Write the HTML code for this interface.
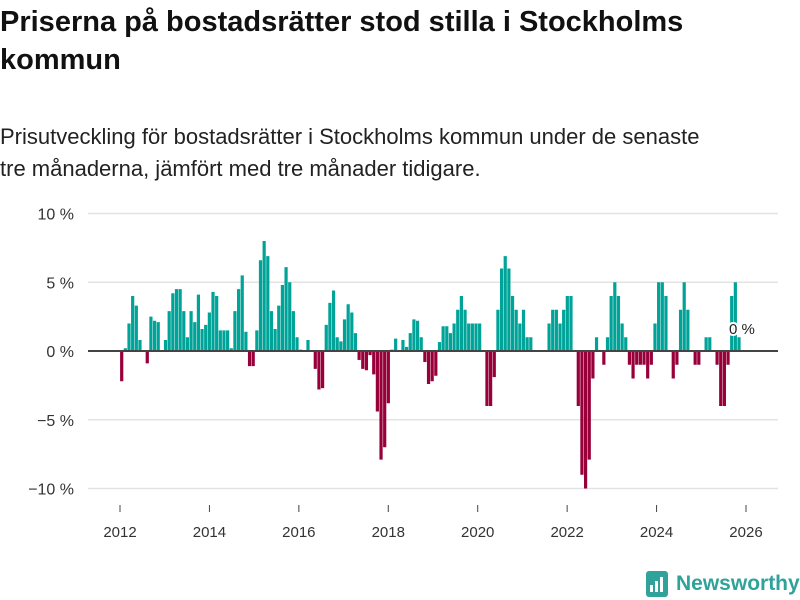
<!DOCTYPE html>
<html><head><meta charset="utf-8"><style>
body{margin:0;background:#fff;font-family:"Liberation Sans",sans-serif;}
#wrap{position:relative;width:800px;height:600px;overflow:hidden;}
h1{position:absolute;left:0;top:3px;margin:0;font-size:29px;line-height:38px;font-weight:bold;color:#111;width:800px;white-space:nowrap;}
p.sub{position:absolute;left:0;top:121px;margin:0;font-size:22px;line-height:32px;color:#222;width:800px;white-space:nowrap;}
</style></head><body>
<div id="wrap">
<h1>Priserna på bostadsrätter stod stilla i Stockholms<br>kommun</h1>
<p class="sub">Prisutveckling för bostadsrätter i Stockholms kommun under de senaste<br>tre månaderna, jämfört med tre månader tidigare.</p>
<svg id="chart" width="800" height="600" style="position:absolute;left:0;top:0"></svg>
</div>
<script>
const values=[-2.2,0.2,2.0,4.0,3.3,0.8,0,-0.9,2.5,2.2,2.1,0,0.8,2.9,4.2,4.5,4.5,2.9,1.0,2.9,2.1,4.1,1.6,1.9,2.8,4.3,4.0,1.5,1.5,1.5,0.2,2.9,4.5,5.5,1.4,-1.1,-1.1,1.5,6.6,8.0,6.9,2.9,1.6,3.3,4.8,6.1,5.0,2.9,1.0,0.1,0,0.8,0,-1.3,-2.8,-2.7,1.9,3.5,4.4,1.0,0.7,2.3,3.4,2.8,1.3,-0.65,-1.3,-1.4,-0.3,-1.7,-4.4,-7.9,-7.0,-3.8,0.1,0.9,0,0.8,0.3,1.3,2.3,2.2,1.0,-0.8,-2.4,-2.2,-1.8,0.65,1.8,1.8,1.3,2.0,3.0,4.0,3.0,2.0,2.0,2.0,2.0,0,-4,-4,-1.9,3,6,6.9,6,4,3,2,3,1,1,0,0,0,0,2,3,3,2,3,4,4,0,-4,-9,-10,-7.9,-2,1,0,-1,1,4,5,4,2,1,-1,-2,-1,-1,-1,-2,-1,2,5,5,4,0,-2,-1,3,5,3,0,-1,-1,0,1,1,0,-1,-4,-4,-1,4,5,1];
const yTicks=[10,5,0,-5,-10];
const yTickLabels=["10 %","5 %","0 %","\u22125 %","\u221210 %"];
const xTicks=[2012,2014,2016,2018,2020,2022,2024,2026];
const NS="http://www.w3.org/2000/svg";
const svg=document.getElementById('chart');
const y=v=>351-v*13.75;
const xYear=yr=>120+(yr-2012)*44.714;
const step=(739-121.7)/(values.length-1);
const xBar=i=>121.7+i*step;
function el(t,a){const e=document.createElementNS(NS,t);for(const k in a)e.setAttribute(k,a[k]);svg.appendChild(e);return e;}
yTicks.forEach((t,i)=>{
 if(t!==0){const g=el('line',{x1:88,x2:778,y1:y(t),y2:y(t),stroke:'#e3e3e3','stroke-width':1.5});
 
 }
 const l=el('text',{x:74,y:y(t)+6,'text-anchor':'end','font-size':16,fill:'#333','font-family':'Liberation Sans, sans-serif'});
 l.textContent=yTickLabels[i];
 
 
});
xTicks.forEach(t=>{
 const tk=el('line',{x1:xYear(t),x2:xYear(t),y1:505,y2:512,stroke:'#444','stroke-width':1});
 
 
 const l=el('text',{x:xYear(t),y:537,'text-anchor':'middle','font-size':15,fill:'#333','font-family':'Liberation Sans, sans-serif'});
 l.textContent=t;
 
 
});
values.forEach((v,i)=>{
 if(v===0)return;
 const b=el('rect',{x:xBar(i)-1.6,width:3.2,y:Math.min(y(v),y(0)),height:Math.abs(y(v)-y(0)),fill:v>0?'#00a398':'#98003a'});
 
 
});
const z=el('line',{x1:88,x2:778,y1:351,y2:351,stroke:'#444','stroke-width':2});


const lastX=xBar(values.length-1);
const ann=el('text',{x:lastX-10,y:334,'font-size':15,fill:'#222',stroke:'#fff','stroke-width':4,'paint-order':'stroke','font-family':'Liberation Sans, sans-serif'});
ann.textContent="0 %";


const lg=el('rect',{x:646,y:571,width:22,height:26,rx:3,fill:'#2fa39a'});


[[650,585,3,7],[655,581,3,11],[660,577,3,15]].forEach(r=>{const q=el('rect',{x:r[0],y:r[1],width:r[2],height:r[3],fill:'#fff'});
 
 });
const lt=el('text',{x:676,y:590,'font-size':21,'font-weight':'bold',fill:'#2fa39a','font-family':'Liberation Sans, sans-serif'});
lt.textContent='Newsworthy';


</script>
</body></html>
